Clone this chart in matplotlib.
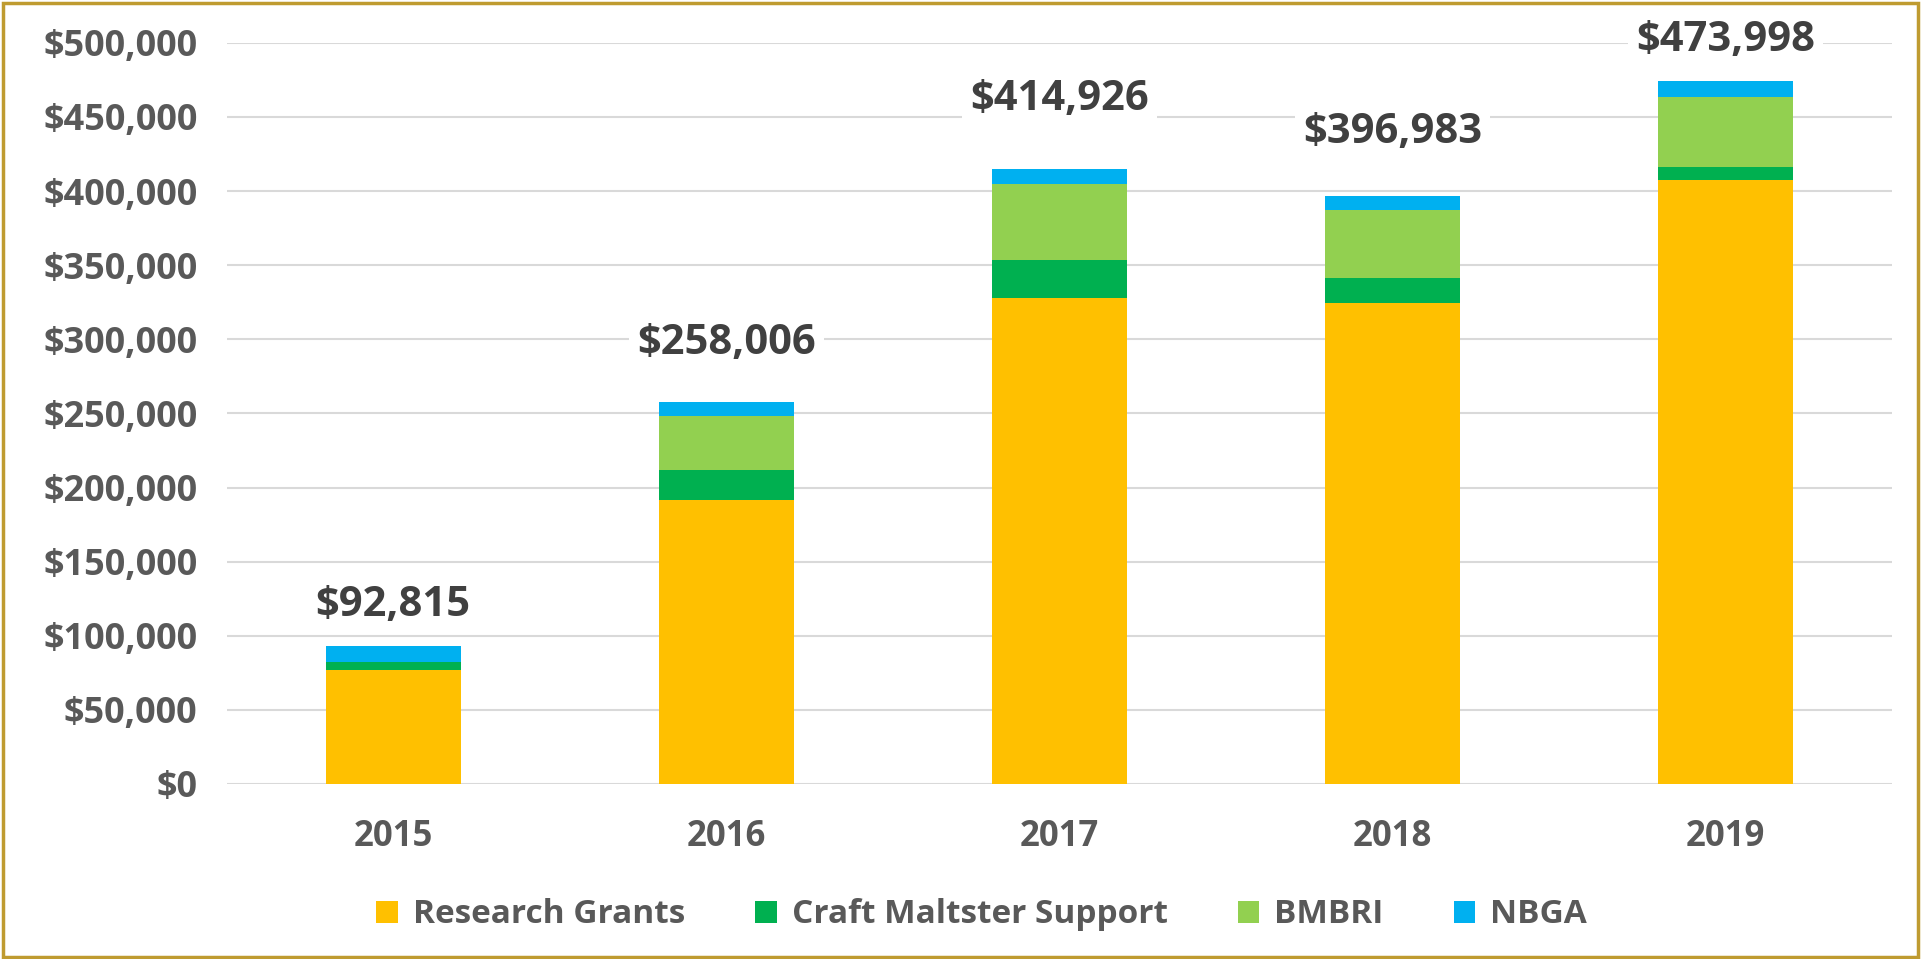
import numpy as np
import matplotlib
matplotlib.use('Agg')
import matplotlib.pyplot as plt
from matplotlib.patches import Rectangle

plt.rcParams['font.family'] = ['Open Sans', 'DejaVu Sans']
plt.rcParams['font.weight'] = 'bold'

years = ['2015', '2016', '2017', '2018', '2019']
research_grants = [77200, 191500, 327900, 324800, 407700]
craft_maltster = [4800, 20600, 25600, 16600, 8700]
bmbri = [0, 36300, 51500, 45600, 47300]
nbga = [10815, 9606, 9926, 9983, 10298]
totals = [92815, 258006, 414926, 396983, 473998]

series_names = ['Research Grants', 'Craft Maltster Support', 'BMBRI', 'NBGA']
series_colors = ['#FFC000', '#00B050', '#92D050', '#00B0F0']
# how far (px) each total label sits above its bar, as placed in the original
label_lift = [41, 58, 69, 63, 41]

fig = plt.figure(figsize=(19.21, 9.59), dpi=100)
ax = fig.add_axes([0.118, 0.1825, 0.867, 0.7728])

x = np.arange(len(years))
bottom = np.zeros(len(years))
for vals, name, col in zip([research_grants, craft_maltster, bmbri, nbga], series_names, series_colors):
    ax.bar(x, vals, width=0.405, bottom=bottom, color=col, label=name, zorder=3)
    bottom += np.array(vals)

for i, t in enumerate(totals):
    ax.annotate(f'${t:,}', (x[i], bottom[i]), xytext=(0, label_lift[i] * 0.72), textcoords='offset points',
                ha='center', va='center', fontsize=30, fontweight='bold', color='#404040', zorder=4,
                bbox=dict(boxstyle='square,pad=0.2', fc='white', ec='none'))

ax.set_xlim(-0.5, 4.5)
ax.set_ylim(0, 500000)
ax.set_yticks(np.arange(0, 500001, 50000))
ax.set_yticklabels([f'${v:,}' for v in range(0, 500001, 50000)])
ax.set_xticks(x)
ax.set_xticklabels(years)
ax.tick_params(axis='both', length=0, labelcolor='#595959')
ax.tick_params(axis='y', pad=21, labelsize=26)
ax.tick_params(axis='x', pad=25, labelsize=25)
for lab in ax.get_xticklabels() + ax.get_yticklabels():
    lab.set_fontweight('bold')
ax.grid(axis='y', color='#D9D9D9', linewidth=1.5, zorder=0)
for s in ax.spines.values():
    s.set_visible(False)

leg = fig.legend(loc='center', bbox_to_anchor=(0.511, 0.046), ncol=4, frameon=False,
                 fontsize=24, handlelength=0.65, handleheight=0.65, columnspacing=2.1, handletextpad=0.45)
for t in leg.get_texts():
    t.set_color('#595959')
    t.set_fontweight('bold')

fig.patches.append(Rectangle((0.0015, 0.002), 0.997, 0.995, transform=fig.transFigure,
                             fill=False, ec='#BF9B30', lw=2.5))

fig.savefig('out.png', dpi=100, facecolor='white')
